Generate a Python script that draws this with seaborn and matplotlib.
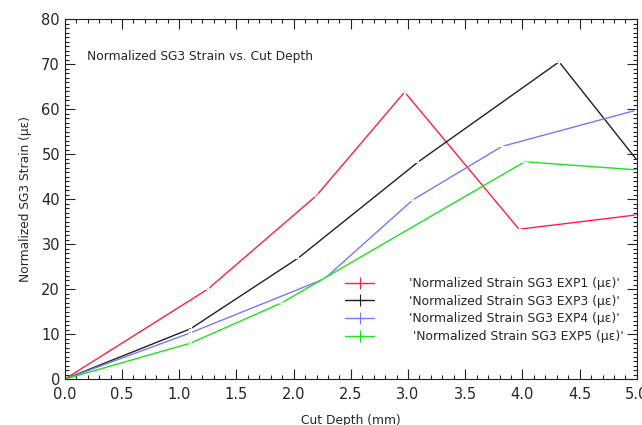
import numpy as np
import pandas as pd
import matplotlib
matplotlib.use("Agg")
import matplotlib.pyplot as plt
import seaborn as sns
from matplotlib.lines import Line2D
from matplotlib.ticker import MultipleLocator

# depth (mm) and strain values
exp1_x = [0.0, 1.25, 2.2, 2.97, 3.97, 5.0]
exp1_y = [0.0, 20.0, 40.8, 63.8, 33.3, 36.5]
exp3_x = [0.0, 1.1, 2.04, 3.09, 4.32, 5.0]
exp3_y = [0.0, 11.2, 26.9, 48.3, 70.5, 48.7]
exp4_x = [0.0, 1.1, 2.27, 3.04, 3.82, 5.0]
exp4_y = [0.0, 10.3, 22.3, 39.8, 51.7, 59.8]
exp5_x = [0.0, 1.1, 1.9, 4.02, 5.0]
exp5_y = [0.0, 8.0, 17.0, 48.3, 46.5]

names = ["'Normalized Strain SG3 EXP1 (\u03bc\u03b5)'",
         "'Normalized Strain SG3 EXP3 (\u03bc\u03b5)'",
         "'Normalized Strain SG3 EXP4 (\u03bc\u03b5)'",
         " 'Normalized Strain SG3 EXP5 (\u03bc\u03b5)'"]
colors = ["#ff2040", "#202020", "#7878ff", "#20e020"]

sns.set_style("ticks")
plt.rcParams['font.family'] = ['DejaVu Sans']

fig = plt.figure(figsize=(6.42, 4.25), dpi=100)
ax = fig.add_axes([0.101, 0.108, 0.891, 0.847])

series = [(exp1_x, exp1_y), (exp3_x, exp3_y), (exp4_x, exp4_y), (exp5_x, exp5_y)]
handles = []
for (xs, ys), name, c in zip(series, names, colors):
    df = pd.DataFrame({'depth': xs, 'strain': ys})
    sns.lineplot(data=df, x='depth', y='strain', ax=ax, color=c, lw=1.0,
                 marker='+', markersize=4, markeredgewidth=0.8, sort=False)
    handles.append(Line2D([], [], color=c, lw=1.0, marker='+', markersize=9,
                          markeredgewidth=0.8))

ax.set_xlim(0, 5.0)
ax.set_ylim(0, 80)
ax.xaxis.set_major_locator(MultipleLocator(0.5))
ax.xaxis.set_minor_locator(MultipleLocator(0.1))
ax.yaxis.set_major_locator(MultipleLocator(10))
ax.yaxis.set_minor_locator(MultipleLocator(1))
ax.xaxis.set_major_formatter(plt.FormatStrFormatter('%.1f'))
ax.tick_params(which='both', direction='in', top=True, right=True,
               labelsize=10.5, width=0.8, color='#222222')
ax.tick_params(which='major', length=7)
ax.tick_params(which='minor', length=3)
ax.tick_params(axis='x', pad=6)
for s in ax.spines.values():
    s.set_linewidth(0.8)
    s.set_color('#222222')

ax.set_xlabel('Cut Depth (mm)', fontsize=8.8, labelpad=8)
ax.set_ylabel('Normalized SG3 Strain (\u03bc\u03b5)', fontsize=8.8, labelpad=7)
ax.text(0.038, 0.895, 'Normalized SG3 Strain vs. Cut Depth',
        transform=ax.transAxes, fontsize=8.8, va='center')

ax.legend(handles, names, loc='upper left', bbox_to_anchor=(0.47, 0.315),
          frameon=False, fontsize=8.9, handlelength=2.4, handletextpad=2.8,
          labelspacing=0.38)

fig.savefig('out.png', dpi=100)
